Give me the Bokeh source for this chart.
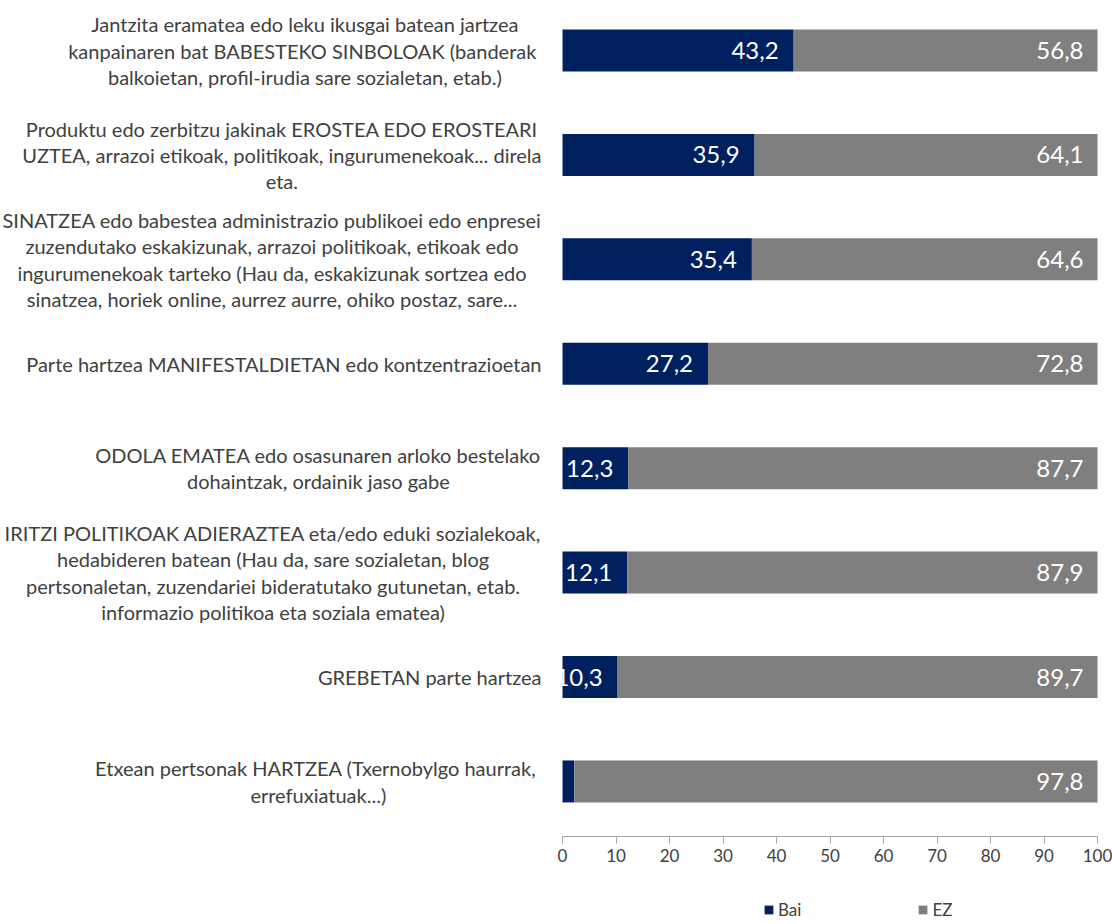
from bokeh.plotting import figure
from bokeh.models import Range1d, FixedTicker, ColumnDataSource, Legend, LegendItem
from bokeh.embed import file_html
from bokeh.resources import INLINE
from bokeh.core.properties import value

# ---- data ----
categories = [
    "Jantzita eramatea edo leku ikusgai batean jartzea\nkanpainaren bat BABESTEKO SINBOLOAK  (banderak\nbalkoietan, profil-irudia sare sozialetan, etab.)",
    "Produktu edo zerbitzu jakinak EROSTEA EDO EROSTEARI\nUZTEA, arrazoi etikoak, politikoak, ingurumenekoak... direla\neta.",
    "SINATZEA edo babestea administrazio publikoei edo enpresei\nzuzendutako eskakizunak, arrazoi politikoak, etikoak edo\ningurumenekoak tarteko (Hau da, eskakizunak sortzea edo\nsinatzea, horiek online, aurrez aurre, ohiko postaz, sare...",
    "Parte hartzea MANIFESTALDIETAN edo kontzentrazioetan",
    "ODOLA EMATEA edo osasunaren arloko bestelako\ndohaintzak, ordainik jaso gabe",
    "IRITZI POLITIKOAK ADIERAZTEA eta/edo eduki sozialekoak,\nhedabideren batean (Hau da, sare sozialetan, blog\npertsonaletan, zuzendariei bideratutako gutunetan, etab.\ninformazio politikoa eta soziala ematea)",
    "GREBETAN parte hartzea",
    "Etxean pertsonak HARTZEA  (Txernobylgo haurrak,\nerrefuxiatuak...)",
]
bai = [43.2, 35.9, 35.4, 27.2, 12.3, 12.1, 10.3, 2.2]
ez = [56.8, 64.1, 64.6, 72.8, 87.7, 87.9, 89.7, 97.8]
series_names = ["Bai", "EZ"]
x_ticks = [0, 10, 20, 30, 40, 50, 60, 70, 80, 90, 100]

# ---- styling ----
NAVY = "#002060"
GREY = "#7f7f7f"
TEXT = "#404040"
FONT = "Lato"


def fmt(v):
    return f"{v:.1f}".replace(".", ",")


n = len(categories)
src = ColumnDataSource(dict(
    y=list(range(n)),
    cat=categories,
    bai=bai,
    ez=ez,
    total=[b + e for b, e in zip(bai, ez)],
    zero=[0] * n,
    bai_lbl=[fmt(v) if v >= 5 else "" for v in bai],
    ez_lbl=[fmt(v) for v in ez],
))

W, H = 1112, 924
p = figure(
    width=W, height=H, output_backend="svg", toolbar_location=None,
    x_range=Range1d(-105.05, 102.80), y_range=Range1d(8.370, -0.479),
    min_border=0, min_border_left=0, min_border_right=0,
    min_border_top=0, min_border_bottom=0,
)
p.outline_line_color = None
p.xgrid.visible = False
p.ygrid.visible = False
p.yaxis.visible = False
p.background_fill_color = "white"

ax = p.xaxis[0]
ax.fixed_location = 7.527
ax.ticker = FixedTicker(ticks=x_ticks)
ax.bounds = (0, 100)
ax.axis_line_color = "#a6a6a6"
ax.major_tick_line_color = "#a6a6a6"
ax.major_tick_out = 7
ax.major_tick_in = 0
ax.minor_tick_out = 0
ax.minor_tick_in = 0
ax.major_label_standoff = 6
ax.major_label_text_font = FONT
ax.major_label_text_font_size = "17px"
ax.major_label_text_color = TEXT

r_bai = p.hbar(y="y", left="zero", right="bai", height=0.402, source=src,
               fill_color=NAVY, line_color=None)
r_ez = p.hbar(y="y", left="bai", right="total", height=0.402, source=src,
              fill_color=GREY, line_color=None)

p.text(x="bai", y="y", text="bai_lbl", source=src, x_offset=-15,
       text_align="right", text_baseline="middle", text_color="white",
       text_font=value(FONT), text_font_size="24px")
p.text(x="total", y="y", text="ez_lbl", source=src, x_offset=-14,
       text_align="right", text_baseline="middle", text_color="white",
       text_font=value(FONT), text_font_size="24px")

p.text(x="zero", y="y", text="cat", source=src, x_offset=-21,
       anchor=value("center_right"), text_align="center", text_baseline="middle",
       text_color=TEXT, text_font=value(FONT), text_font_size="20px",
       text_line_height=1.1)

lg = Legend(items=[LegendItem(label=series_names[0], renderers=[r_bai]),
                   LegendItem(label=series_names[1], renderers=[r_ez])])
lg.orientation = "horizontal"
lg.location = (763, 4)
lg.margin = 0
lg.padding = 0
lg.spacing = 116
lg.glyph_width = 11
lg.glyph_height = 11
lg.label_standoff = 4
lg.border_line_color = None
lg.background_fill_alpha = 0
lg.label_text_font = FONT
lg.label_text_font_size = "17px"
lg.label_text_color = TEXT
p.add_layout(lg, "center")

open("out.html", "w").write(file_html(p, INLINE))
